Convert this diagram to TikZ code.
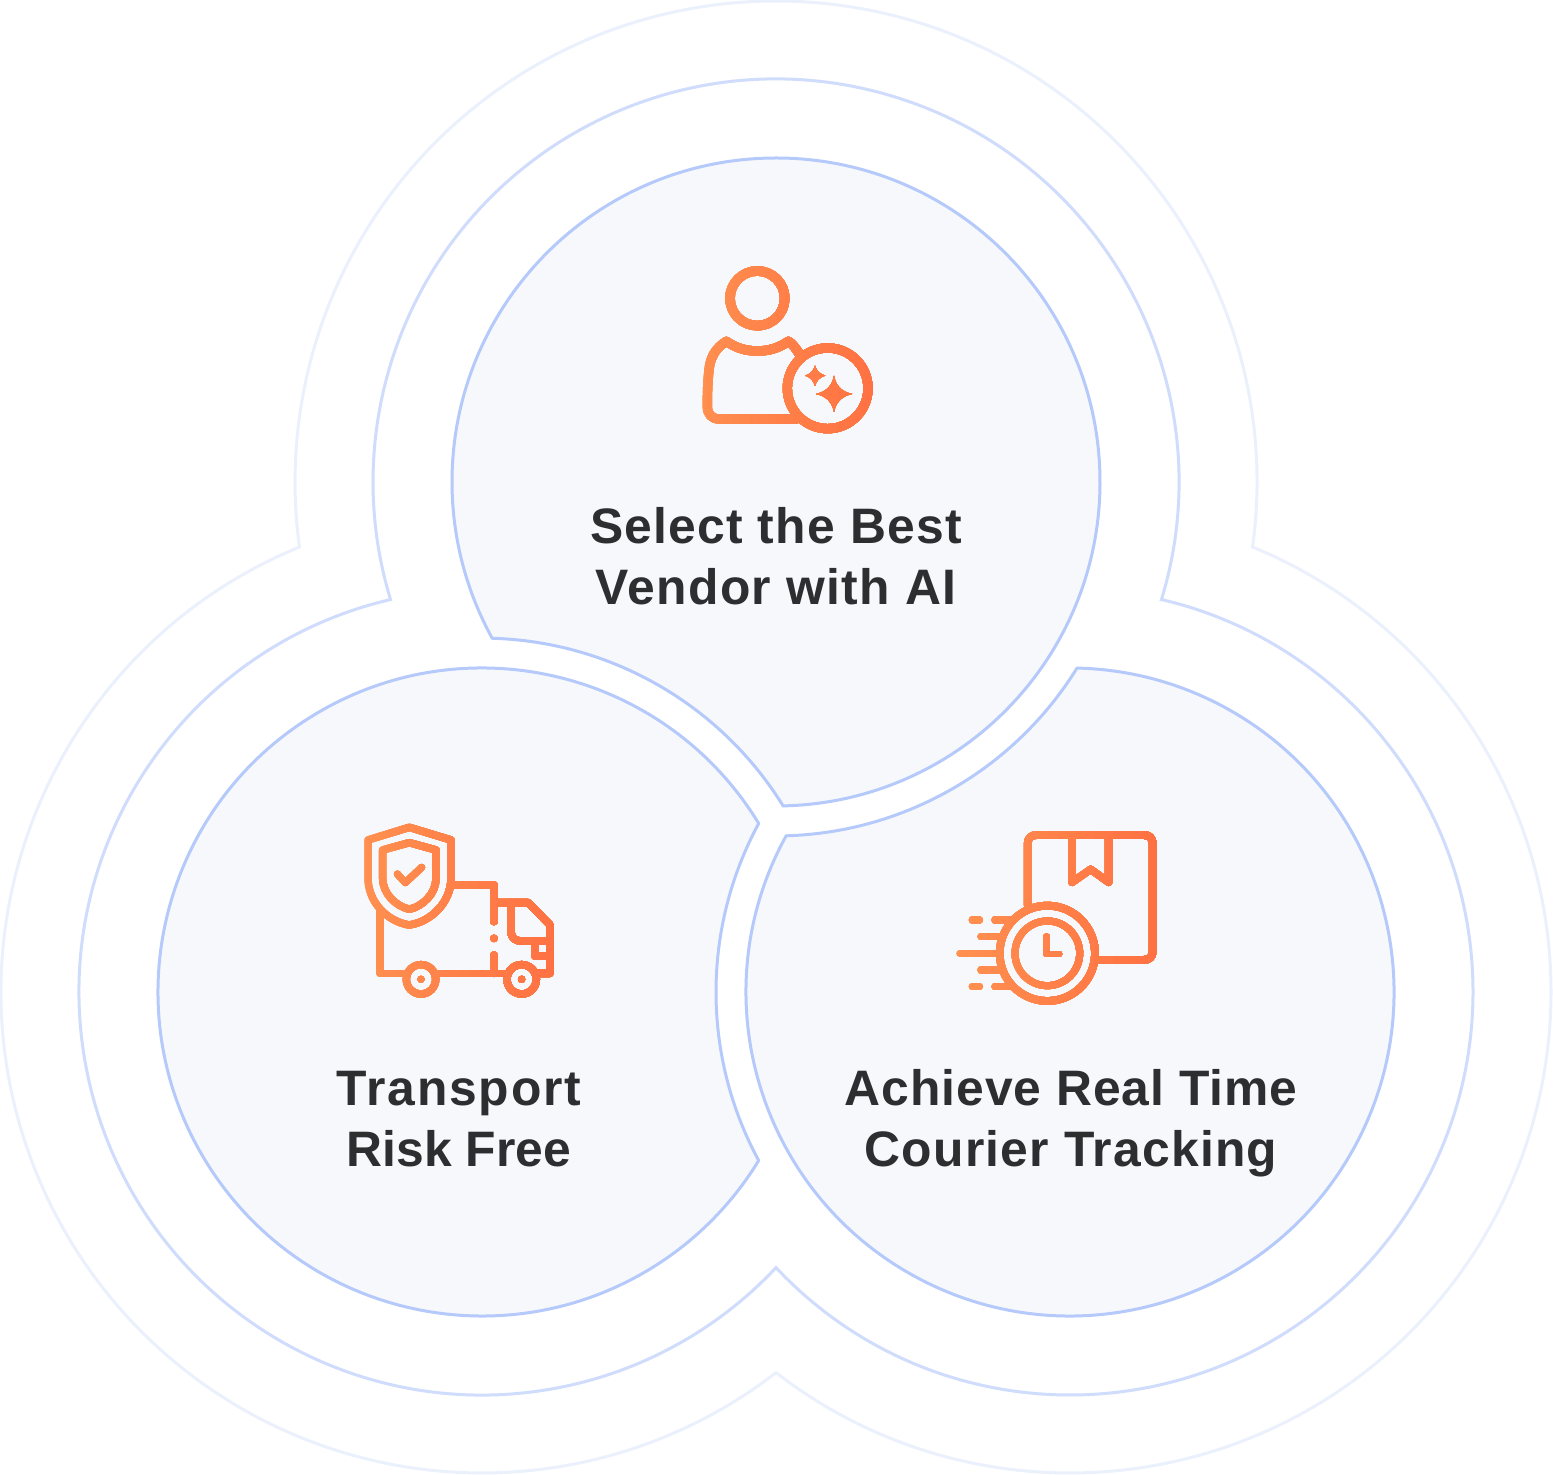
\documentclass[tikz,border=0pt]{standalone}
\usepackage{fontspec}
\setmainfont{Liberation Sans}
\usetikzlibrary{calc}
\definecolor{ringinner}{HTML}{B5C9FB}
\definecolor{ringmid}{HTML}{CFDCFC}
\definecolor{ringouter}{HTML}{EBF0FD}
\definecolor{panelfill}{HTML}{F6F8FC}
\definecolor{labelink}{HTML}{2D2E30}
\definecolor{iconA}{HTML}{FF9150}
\definecolor{iconB}{HTML}{FF6F42}
\colorlet{stripcol}{iconA}
\tikzset{
  ringo/.style={draw=ringouter,line width=3bp,line join=miter,fill=white},
  ringm/.style={draw=ringmid,line width=3bp,line join=miter,fill=white},
  panel/.style={draw=ringinner,line width=3bp,line join=round,fill=panelfill},
  label/.style={text=labelink,font=\bfseries\fontsize{50}{61}\selectfont,align=center,inner sep=0pt},
  ico/.style={draw=stripcol,line cap=round,line join=round,fill=none},
  icofill/.style={fill=stripcol,draw=none},
}
\newcommand{\lsp}[2]{{\addfontfeature{LetterSpace=#1}#2}}
\newcommand{\personpaths}{%
    \draw[ico,line width=9.6bp] (232,145) circle (82);
    \draw[ico,line width=9.4bp] (358,312) .. controls (348,296) and (338,282) .. (325,274)
      .. controls (295,295) and (265,303) .. (232,303)
      .. controls (199,303) and (169,295) .. (139,274)
      .. controls (105,295) and (90,325) .. (87,360)
      .. controls (83,395) and (82,430) .. (82,470)
      .. controls (82,492) and (95,507) .. (118,507) -- (350,507);
    \draw[ico,line width=9.2bp] (443,415) circle (121);
    \fill[icofill] (462,378) .. controls (468,408) and (485,425) .. (516,432)
      .. controls (485,439) and (468,456) .. (462,486)
      .. controls (456,456) and (439,439) .. (408,432)
      .. controls (439,425) and (456,408) .. (462,378) -- cycle;
    \fill[icofill] (405,347) .. controls (409,362) and (420,373) .. (436,377)
      .. controls (420,381) and (409,392) .. (405,408)
      .. controls (401,392) and (390,381) .. (375,377)
      .. controls (390,373) and (401,362) .. (405,347) -- cycle;
}
\newcommand{\truckpaths}{%
    \draw[ico,line width=7.4bp] (178,52) -- (303,90) -- (303,205)
      .. controls (303,275) and (245,335) .. (178,345)
      .. controls (111,335) and (54,275) .. (54,205) -- (54,90) -- cycle;
    \draw[ico,line width=7.4bp] (178,98) -- (258,120) -- (258,205)
      .. controls (258,250) and (220,288) .. (178,298)
      .. controls (136,288) and (98,250) .. (98,205) -- (98,120) -- cycle;
    \draw[ico,line width=7bp] (142,192) -- (166,218) -- (215,172);
    \draw[ico,line width=7.4bp] (90,300) -- (90,490) -- (170,490);
    \draw[ico,line width=7.4bp] (257,490) -- (472,490);
    \draw[ico,line width=7.4bp] (305,225) -- (432,225) -- (432,335);
    \fill[icofill] (432,385) circle (11.5);
    \draw[ico,line width=7.4bp] (432,435) -- (432,490);
    \draw[ico,line width=7.4bp] (432,278) -- (535,278) -- (600,345) -- (600,490) -- (558,490);
    \draw[ico,line width=7.4bp] (483,278) -- (483,365)
      .. controls (483,382) and (495,393) .. (512,393) -- (600,393);
    \draw[ico,line width=7.4bp] (555,393) -- (555,438) -- (600,438);
    \draw[ico,line width=7.4bp] (213,508) circle (44);
    \draw[ico,line width=7.4bp] (515,508) circle (44);
    \fill[icofill] (213,508) circle (11);
    \fill[icofill] (515,508) circle (11);
}
\newcommand{\parcelpaths}{%
    \draw[ico,line width=7.8bp] (248,255) -- (248,72)
      .. controls (248,55) and (258,45) .. (275,45) -- (596,45)
      .. controls (613,45) and (623,55) .. (623,72) -- (623,393)
      .. controls (623,410) and (613,420) .. (596,420) -- (460,420);
    \draw[ico,line width=7.4bp] (381,45) -- (381,187) -- (437,148) -- (491,187) -- (491,45);
    \draw[ico,line width=7.7bp] (307,400) circle (143);
    \draw[ico,line width=7bp] (307,400) circle (97);
    \draw[ico,line width=6.8bp] (305,350) -- (305,402) -- (342,402);
    \draw[ico,line width=7.4bp] (82,300) -- (103,300);
    \draw[ico,line width=7.4bp] (150,300) -- (195,300);
    \draw[ico,line width=7.4bp] (108,350) -- (168,350);
    \draw[ico,line width=7.4bp] (45,400) -- (155,400);
    \draw[ico,line width=7.4bp] (108,450) -- (168,450);
    \draw[ico,line width=7.4bp] (82,500) -- (103,500);
    \draw[ico,line width=7.4bp] (150,500) -- (195,500);
}
% #1 = left, #2 = top (picture coordinates), #3 = crop width, #4 = crop height, #5 = paths
\newcommand{\gradicon}[5]{%
  \foreach \stripno in {0,...,23}{%
    \pgfmathsetmacro{\mixpct}{\stripno*100/23}%
    \colorlet{stripcol}{iconB!\mixpct!iconA}%
    \begin{scope}[shift={(#1,#2)},x=0.33333bp,y=-0.33333bp]
      \clip ({\stripno/24*#3*3},0) rectangle (#3*3,#4*3);
      #5
    \end{scope}
  }%
}
\begin{document}
\begin{tikzpicture}[x=1bp,y=1bp]
  \useasboundingbox (0,0) rectangle (1553,1475);
  \coordinate (T) at (776,993);
  \coordinate (L) at (482,483);
  \coordinate (R) at (1070,483);
  % outer outline: union of three circles, r=481
  \draw[ringo] ($(T)+(-7.77:481)$) arc (-7.77:187.77:481) arc (112.31:307.68:481) arc (232.32:427.69:481) -- cycle;
  % middle outline: union of three circles, r=403
  \draw[ringm] ($(T)+(-16.96:403)$) arc (-16.96:196.96:403) arc (103.12:316.85:403) arc (223.15:436.88:403) -- cycle;
  % inner panels
  \draw[panel] ($(T)+(271.24:324)$) arc (271.24:568.84:324) arc (88.36:31.72:354) -- cycle;
  \draw[panel] ($(L)+(31.35:324)$) arc (31.35:328.65:324) arc (208.43:151.57:354) -- cycle;
  \draw[panel] ($(R)+(151.16:324)$) arc (151.16:448.76:324) arc (328.28:271.64:354) -- cycle;
  % icons
  \gradicon{680}{1225}{210}{200}{\personpaths}
  \gradicon{350}{665}{220}{200}{\truckpaths}
  \gradicon{945}{655}{225}{195}{\parcelpaths}
  % labels
  \node[label] (best) at (776,919) {\lsp{2.4}{Select the Best}\\\lsp{2.6}{Vendor with AI}};
  \node[label] (risk) at (459,356) {\lsp{3.6}{Transport}\\Risk Free};
  \node[label] (track) at (1071,352) {\lsp{1.9}{Achieve Real Time}\\\lsp{2.4}{Courier Tracking}};
\end{tikzpicture}
\end{document}
